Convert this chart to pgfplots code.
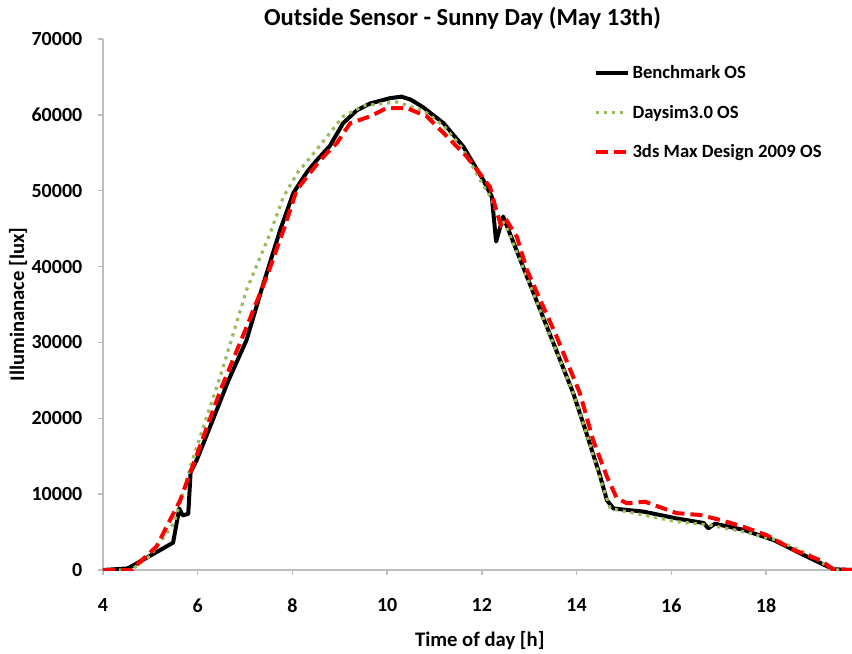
\documentclass[border=0pt]{standalone}
\usepackage{pgfplots}
\pgfplotsset{compat=1.18}
\usepackage{fontspec}
\setmainfont{Carlito}
\usetikzlibrary{calc}
\definecolor{dgreen}{RGB}{155,187,89}
\definecolor{axgray}{RGB}{190,190,190}
\begin{document}
\begin{tikzpicture}
\begin{axis}[
  scale only axis,
  width=561.75pt, height=398.25pt,
  xmin=4, xmax=19.815, ymin=0, ymax=70000,
  xtick={4,6,...,18},
  ytick={0,10000,...,70000},
  scaled y ticks=false,
  /pgf/number format/.cd, fixed, set thousands separator={}, assume math mode=true,
  /pgfplots/.cd,
  axis x line*=bottom, axis y line*=left,
  axis line style={axgray, line width=1pt, -},
  tick style={axgray, line width=1pt},
  tick align=outside,
  major tick length=4pt,
  ticklabel style={font=\fontsize{15}{17}\selectfont\bfseries, text=black},
  xticklabel style={yshift=-14pt},
  yticklabel style={xshift=-8pt},
  title={Outside Sensor - Sunny Day (May 13th)},
  title style={font=\fontsize{18.4}{21}\selectfont\bfseries, at={(axis description cs:0.48,1.0095)}, anchor=base, yshift=0pt},
  xlabel={Time of day [h]},
  ylabel={Illuminanace [lux]},
  label style={font=\fontsize{15.5}{18}\selectfont\bfseries},
  xlabel style={at={(axis description cs:0.503,-0.132)}, anchor=center},
  ylabel style={at={(axis description cs:-0.1135,0.5)}, anchor=center},
  legend style={draw=none, fill=none, at={(0.655,0.955)}, anchor=north west,
    font=\fontsize{14}{16}\selectfont\bfseries, row sep=14pt, inner sep=0pt},
  legend cell align=left,
  legend image code/.code={\draw[#1] (0pt,0pt) -- (24pt,0pt);},
]
\addplot[black, line width=3pt, line join=round] coordinates {
(4.0,0) (4.5,200) (4.55,300) (5.48,3600) (5.61,8100) (5.68,7200) (5.80,7400)
(5.85,12900) (5.98,14500) (6.3,19500) (6.65,25000) (7.03,30300) (7.35,37000)
(7.74,44800) (8.02,49700) (8.3,52400) (8.51,54000) (8.79,55900) (9.07,58900)
(9.36,60600) (9.64,61500) (10.06,62200) (10.3,62400) (10.5,62000) (10.76,61000)
(11.19,58900) (11.61,55800) (12.03,51400) (12.21,49200) (12.30,43300) (12.45,46600)
(12.81,40900) (13.37,32100) (13.93,23300) (14.21,18000) (14.5,12300) (14.64,9200)
(14.78,8100) (15.41,7700) (16.11,6800) (16.68,6200) (16.78,5500) (16.92,6100)
(17.52,5300) (18.16,3950) (18.72,2200) (19.42,100) (19.815,0)
};
\addlegendentry{Benchmark OS}
\addplot[dgreen, line width=2.4pt, dash pattern=on 2.4pt off 3.6pt] coordinates {
(4.0,0) (4.6,0) (5.0,1900) (5.5,6200) (5.91,14900) (6.5,26000) (7.03,36900)
(7.53,44400) (7.81,49200) (8.1,52300) (8.51,55400) (9.07,59800) (9.5,61200)
(10.2,61700) (10.76,60600) (11.2,58500) (11.6,55500) (12.0,51000) (12.2,49000)
(12.35,46500) (12.5,45500) (12.81,40800) (13.37,32000) (13.93,23300) (14.21,18000)
(14.5,12000) (14.71,8100) (15.41,7250) (16.11,6370) (16.8,5930) (17.52,5050)
(18.23,3950) (18.93,1980) (19.42,0) (19.815,0)
};
\addlegendentry{Daysim3.0 OS}
\addplot[red, line width=3pt, dash pattern=on 9pt off 4.5pt] coordinates {
(4.0,0) (4.6,0) (5.13,3100) (5.63,9200) (5.84,12800) (6.0,15500) (6.5,24000)
(7.03,32000) (7.46,38700) (7.81,44800) (8.09,50100) (8.58,54000) (8.94,56300)
(9.22,58900) (9.64,59800) (9.99,60900) (10.41,60900) (10.84,59800) (11.19,57600)
(11.68,54500) (12.17,50500) (12.30,47500) (12.40,45500) (12.50,46300) (12.74,43900)
(12.95,39550) (13.58,30750) (14.07,23300) (14.35,17100) (14.64,12300) (14.85,9450)
(15.06,8800) (15.45,9000) (15.73,8350) (16.11,7500) (16.61,7250) (17.03,6600)
(17.52,5700) (18.01,4600) (18.58,2650) (19.14,1300) (19.42,100) (19.815,0)
};
\addlegendentry{3ds Max Design 2009 OS}
\end{axis}
\pgfresetboundingbox
\path ($(current axis.south west)+(-77.25pt,-62.25pt)$) rectangle ($(current axis.north east)+(0pt,29.25pt)$);
\end{tikzpicture}
\end{document}
